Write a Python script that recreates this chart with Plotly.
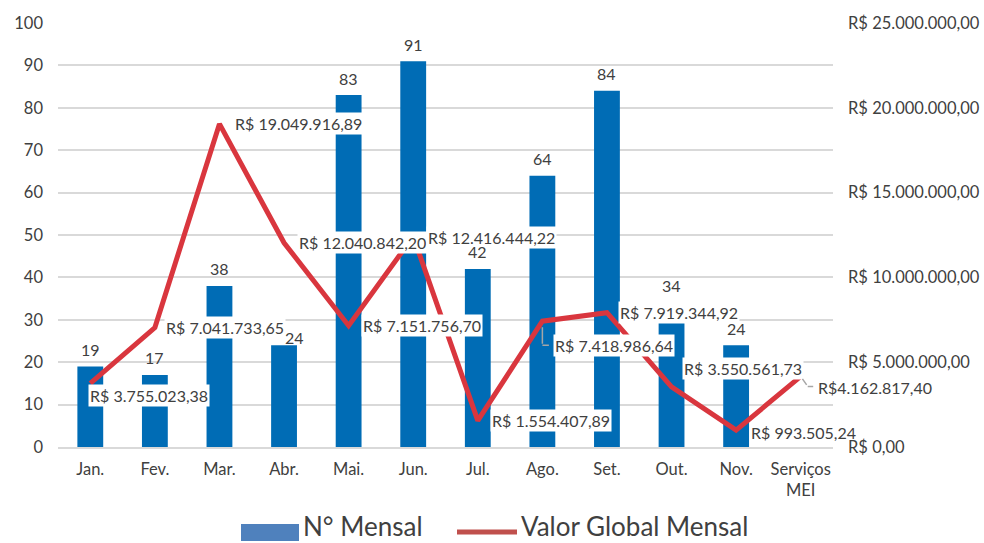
import plotly.graph_objects as go

categories = ["Jan.", "Fev.", "Mar.", "Abr.", "Mai.", "Jun.", "Jul.", "Ago.", "Set.", "Out.", "Nov.", "Serviços<br>MEI"]
n_mensal = [19, 17, 38, 24, 83, 91, 42, 64, 84, 34, 24, None]
valor_global = [3755023.38, 7041733.65, 19049916.89, 12040842.20, 7151756.70, 12416444.22,
                1554407.89, 7418986.64, 7919344.92, 3550561.73, 993505.24, 4162817.40]
valor_labels = ["R$ 3.755.023,38", "R$ 7.041.733,65", "R$ 19.049.916,89", "R$ 12.040.842,20",
                "R$ 7.151.756,70", "R$ 12.416.444,22", "R$ 1.554.407,89", "R$ 7.418.986,64",
                "R$ 7.919.344,92", "R$ 3.550.561,73", "R$ 993.505,24", "R$4.162.817,40"]
left_ticks = list(range(0, 101, 10))
right_tickvals = [0, 5e6, 10e6, 15e6, 20e6, 25e6]
right_ticktext = ["R$ 0,00", "R$ 5.000.000,00", "R$ 10.000.000,00", "R$ 15.000.000,00",
                  "R$ 20.000.000,00", "R$ 25.000.000,00"]

FONT = "Lato"
TXT = "#404040"
BAR = "#006CB5"
LINE = "#D9363E"
TICK = 16.5
LAB = 16

fig = go.Figure()
fig.add_trace(go.Bar(
    x=categories, y=n_mensal, name="N° Mensal", marker=dict(color=BAR, line=dict(width=0)),
    width=0.4, showlegend=False))
fig.add_trace(go.Scatter(
    x=categories, y=valor_global, name="Valor Global Mensal", mode="lines",
    line=dict(color=LINE, width=5), yaxis="y2", showlegend=False))

# line value labels: offsets (xshift, yshift) in px
offsets = [(-2, -12), (9, 0), (14, 0), (13, 0), (12, 0), (13, -1), (12, 0), (11, -24),
           (11, 0), (10, 18), (13, -2), (15, -11)]
transparent = {10, 11}
for i, (c, v, lab) in enumerate(zip(categories, valor_global, valor_labels)):
    dx, dy = offsets[i]
    fig.add_annotation(x=c, y=v, yref="y2", text=lab, showarrow=False,
                       xanchor="left", yanchor="middle", xshift=dx, yshift=dy,
                       bgcolor="rgba(0,0,0,0)" if i in transparent else "white", borderpad=1,
                       font=dict(size=LAB, color=TXT, family=FONT))

# bar value labels
bar_shift = {3: (10, -9)}
for i, (c, v) in enumerate(zip(categories, n_mensal)):
    if v is None:
        continue
    dx, dy = bar_shift.get(i, (0, 0))
    fig.add_annotation(x=c, y=v, yref="y", text=str(v), showarrow=False,
                       xanchor="center", yanchor="middle", xshift=dx, yshift=17 + dy,
                       font=dict(size=LAB, color=TXT, family=FONT))

# leader lines (Ago. and Serviços MEI)
LC = "#A6A6A6"
fig.add_annotation(x=categories[7], y=valor_global[7], yref="y2", text="", showarrow=True,
                   ax=0, ay=24, arrowhead=0, arrowwidth=1.5, arrowcolor=LC, standoff=6)
fig.add_annotation(x=categories[7], y=valor_global[7], yref="y2", text="", showarrow=True,
                   yshift=-24, ax=8, ay=0, arrowhead=0, arrowwidth=1.5, arrowcolor=LC, standoff=0)
fig.add_annotation(x=categories[11], y=valor_global[11], yref="y2", text="", showarrow=True,
                   ax=7, ay=10, arrowhead=0, arrowwidth=1.5, arrowcolor=LC, standoff=3)
fig.add_annotation(x=categories[11], y=valor_global[11], yref="y2", text="", showarrow=True,
                   xshift=7, yshift=-10, ax=7, ay=0, arrowhead=0, arrowwidth=1.5, arrowcolor=LC, standoff=0)

fig.update_layout(
    width=984, height=543,
    margin=dict(l=58, r=151, t=23, b=96, autoexpand=False),
    paper_bgcolor="white", plot_bgcolor="white",
    font=dict(family=FONT, color=TXT, size=TICK),
    xaxis=dict(range=[-0.5, len(categories) - 0.5], tickfont=dict(size=TICK, color=TXT),
               showgrid=False, showline=True, ticklabelstandoff=6,
               linecolor="#D9D9D9", linewidth=2, ticks="", automargin=False),
    yaxis=dict(range=[0, 100], tickvals=left_ticks, showgrid=True, gridcolor="#D9D9D9",
               gridwidth=2, zeroline=False, tickfont=dict(size=TICK, color=TXT), ticks="",
               ticklabelstandoff=14, automargin=False),
    yaxis2=dict(range=[0, 25e6], overlaying="y", side="right", tickvals=right_tickvals,
                ticktext=right_ticktext, showgrid=False, zeroline=False,
                tickfont=dict(size=TICK, color=TXT), ticks="", ticklabelstandoff=14,
                automargin=False),
    showlegend=False,
)
# manual legend in paper coords (plot area 58..833 x, 23..447 y)
pw, ph = 775.0, 424.0
def px(x):
    return (x - 58) / pw
def py(y):
    return (447 - y) / ph
fig.add_shape(type="rect", xref="paper", yref="paper", x0=px(241), x1=px(299), y0=py(541), y1=py(524),
              fillcolor="#4F81BD", line=dict(width=0))
fig.add_shape(type="line", xref="paper", yref="paper", x0=px(457), x1=px(517), y0=py(532), y1=py(532),
              line=dict(color="#C0504D", width=5))
fig.add_annotation(xref="paper", yref="paper", x=px(302), y=py(543), text="N° Mensal", showarrow=False,
                   xanchor="left", yanchor="bottom", borderpad=0,
                   font=dict(size=26, color=TXT, family=FONT))
fig.add_annotation(xref="paper", yref="paper", x=px(520), y=py(543), text="Valor Global Mensal", showarrow=False,
                   xanchor="left", yanchor="bottom", borderpad=0,
                   font=dict(size=26, color=TXT, family=FONT))

fig.write_html("out.html", config={"displayModeBar": False},
               post_script="document.body.style.margin='0';")
